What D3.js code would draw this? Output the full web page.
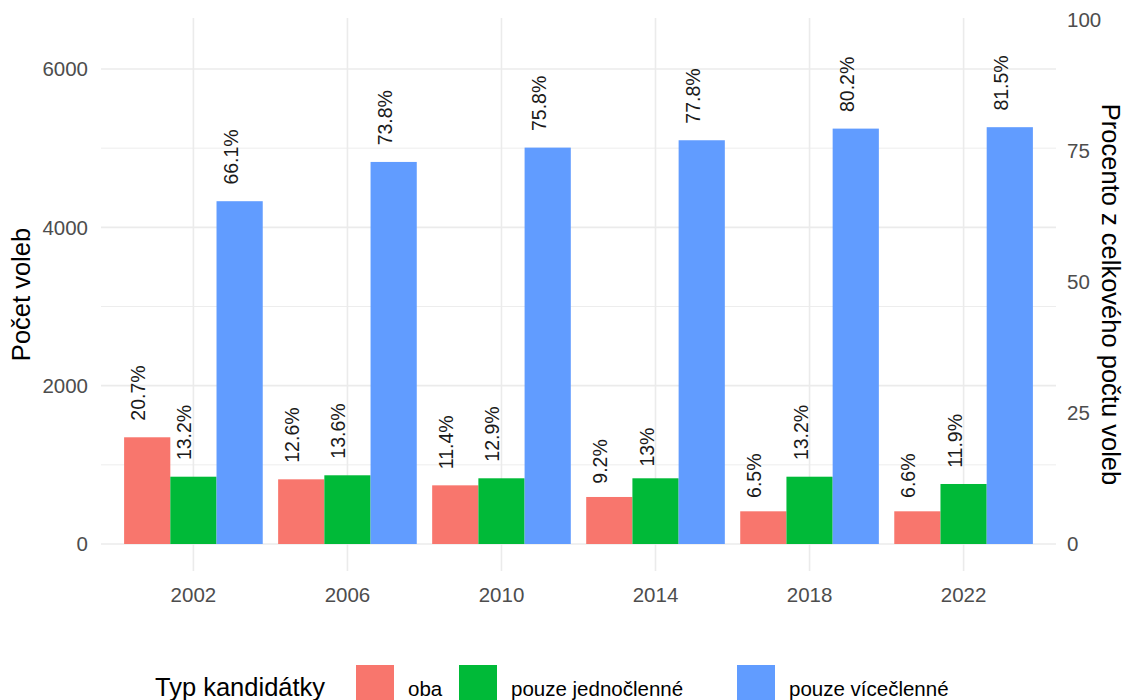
<!DOCTYPE html>
<meta charset="utf-8">
<style>
body{margin:0;background:#fff;}
text{font-family:"Liberation Sans",Arial,sans-serif;}
.tick-lab{fill:#4d4d4d;font-size:20.5px;}
.ax-title{fill:#000;font-size:25.5px;}
.bar-lab{fill:#1a1a1a;font-size:19.5px;}
.leg-title{fill:#000;font-size:25.5px;}
.leg-lab{fill:#000;font-size:20.5px;}
</style>
<body>
<script src="https://d3js.org/d3.v7.min.js"></script>
<script>

var years = ["2002","2006","2010","2014","2018","2022"];
var series = ["oba","pouze jednočlenné","pouze vícečlenné"];
var oba = [1348, 817, 741, 594, 413, 413];
var jedno = [850, 868, 830, 830, 850, 758];
var vice = [4330, 4826, 5007, 5100, 5247, 5265];
var obaPct = ["20.7%","12.6%","11.4%","9.2%","6.5%","6.6%"];
var jednoPct = ["13.2%","13.6%","12.9%","13%","13.2%","11.9%"];
var vicePct = ["66.1%","73.8%","75.8%","77.8%","80.2%","81.5%"];
var leftTicks = [0,2000,4000,6000];
var minorTicks = [1000,3000,5000];
var rightTicks = [0,25,50,75,100];
var secFactor = 66.2; // procento -> pocet

var colors = {"oba":"#F8766D","pouze jednočlenné":"#00BA38","pouze vícečlenné":"#619CFF"};

var W = 1129, H = 700;
var panel = {left:101, right:1056, top:18, bottom:571};

var svg = d3.select("body").append("svg").attr("width",W).attr("height",H);

var x = d3.scalePoint().domain(years).range([panel.left,panel.right]).padding(0.6);
var step = x.step();
var xs = d3.scaleBand().domain(series).range([-0.45*step,0.45*step]);
var y = d3.scaleLinear().domain([0,6000]).range([544,69]);
var yr = d3.scaleLinear().domain([0,100]).range([y(0),y(100*secFactor)]);

var data = [];
years.forEach(function(yr_,i){
  data.push({year:yr_,s:series[0],v:oba[i],lab:obaPct[i]});
  data.push({year:yr_,s:series[1],v:jedno[i],lab:jednoPct[i]});
  data.push({year:yr_,s:series[2],v:vice[i],lab:vicePct[i]});
});

// mrizka
var grid = svg.append("g");
grid.selectAll(".minor").data(minorTicks).enter().append("line")
  .attr("x1",panel.left).attr("x2",panel.right)
  .attr("y1",d=>y(d)).attr("y2",d=>y(d))
  .attr("stroke","#ededed").attr("stroke-width",1);
grid.selectAll(".major").data(leftTicks).enter().append("line")
  .attr("x1",panel.left).attr("x2",panel.right)
  .attr("y1",d=>y(d)).attr("y2",d=>y(d))
  .attr("stroke","#ebebeb").attr("stroke-width",1.6);
grid.selectAll(".vert").data(years).enter().append("line")
  .attr("x1",d=>x(d)).attr("x2",d=>x(d))
  .attr("y1",panel.top).attr("y2",panel.bottom)
  .attr("stroke","#ebebeb").attr("stroke-width",1.6);

// sloupce
svg.append("g").selectAll("rect").data(data).enter().append("rect")
  .attr("x",d=>x(d.year)+xs(d.s))
  .attr("width",xs.bandwidth())
  .attr("y",d=>y(d.v))
  .attr("height",d=>y(0)-y(d.v))
  .attr("fill",d=>colors[d.s]);

// popisky
svg.append("g").selectAll("text").data(data).enter().append("text")
  .attr("class","bar-lab")
  .text(d=>d.lab)
  .each(function(d){
    var len = this.getComputedTextLength();
    var cx = x(d.year)+xs(d.s)+xs.bandwidth()/2 - 2;
    var cy = y(d.v) - 0.3*len;
    d3.select(this).attr("transform","translate("+cx+","+cy+") rotate(-90)");
  });

// osy
svg.append("g").selectAll("text").data(leftTicks).enter().append("text")
  .attr("class","tick-lab").attr("x",88).attr("y",d=>y(d))
  .attr("dy","0.36em").attr("text-anchor","end").text(d=>d);
svg.append("g").selectAll("text").data(rightTicks).enter().append("text")
  .attr("class","tick-lab").attr("x",1067).attr("y",d=>yr(d))
  .attr("dy","0.36em").attr("text-anchor","start").text(d=>d);
svg.append("g").selectAll("text").data(years).enter().append("text")
  .attr("class","tick-lab").attr("x",d=>x(d)).attr("y",601.5)
  .attr("text-anchor","middle").text(d=>d);

var midY = (panel.top+panel.bottom)/2;
svg.append("text").attr("class","ax-title")
  .attr("transform","translate(30,"+midY+") rotate(-90)")
  .attr("text-anchor","middle").text("Počet voleb");
svg.append("text").attr("class","ax-title")
  .attr("transform","translate(1102,"+midY+") rotate(90)")
  .attr("text-anchor","middle").text("Procento z celkového počtu voleb");

// legenda
var leg = svg.append("g");
leg.append("text").attr("class","leg-title").attr("x",155).attr("y",696).text("Typ kandidátky");
var keyX = [356, 459, 737];
series.forEach(function(s,i){
  leg.append("rect").attr("x",keyX[i]).attr("y",665).attr("width",38).attr("height",40)
    .attr("fill",colors[s]);
  leg.append("text").attr("class","leg-lab").attr("x",keyX[i]+52).attr("y",696).text(s);
});
</script>
</body>
</html>
